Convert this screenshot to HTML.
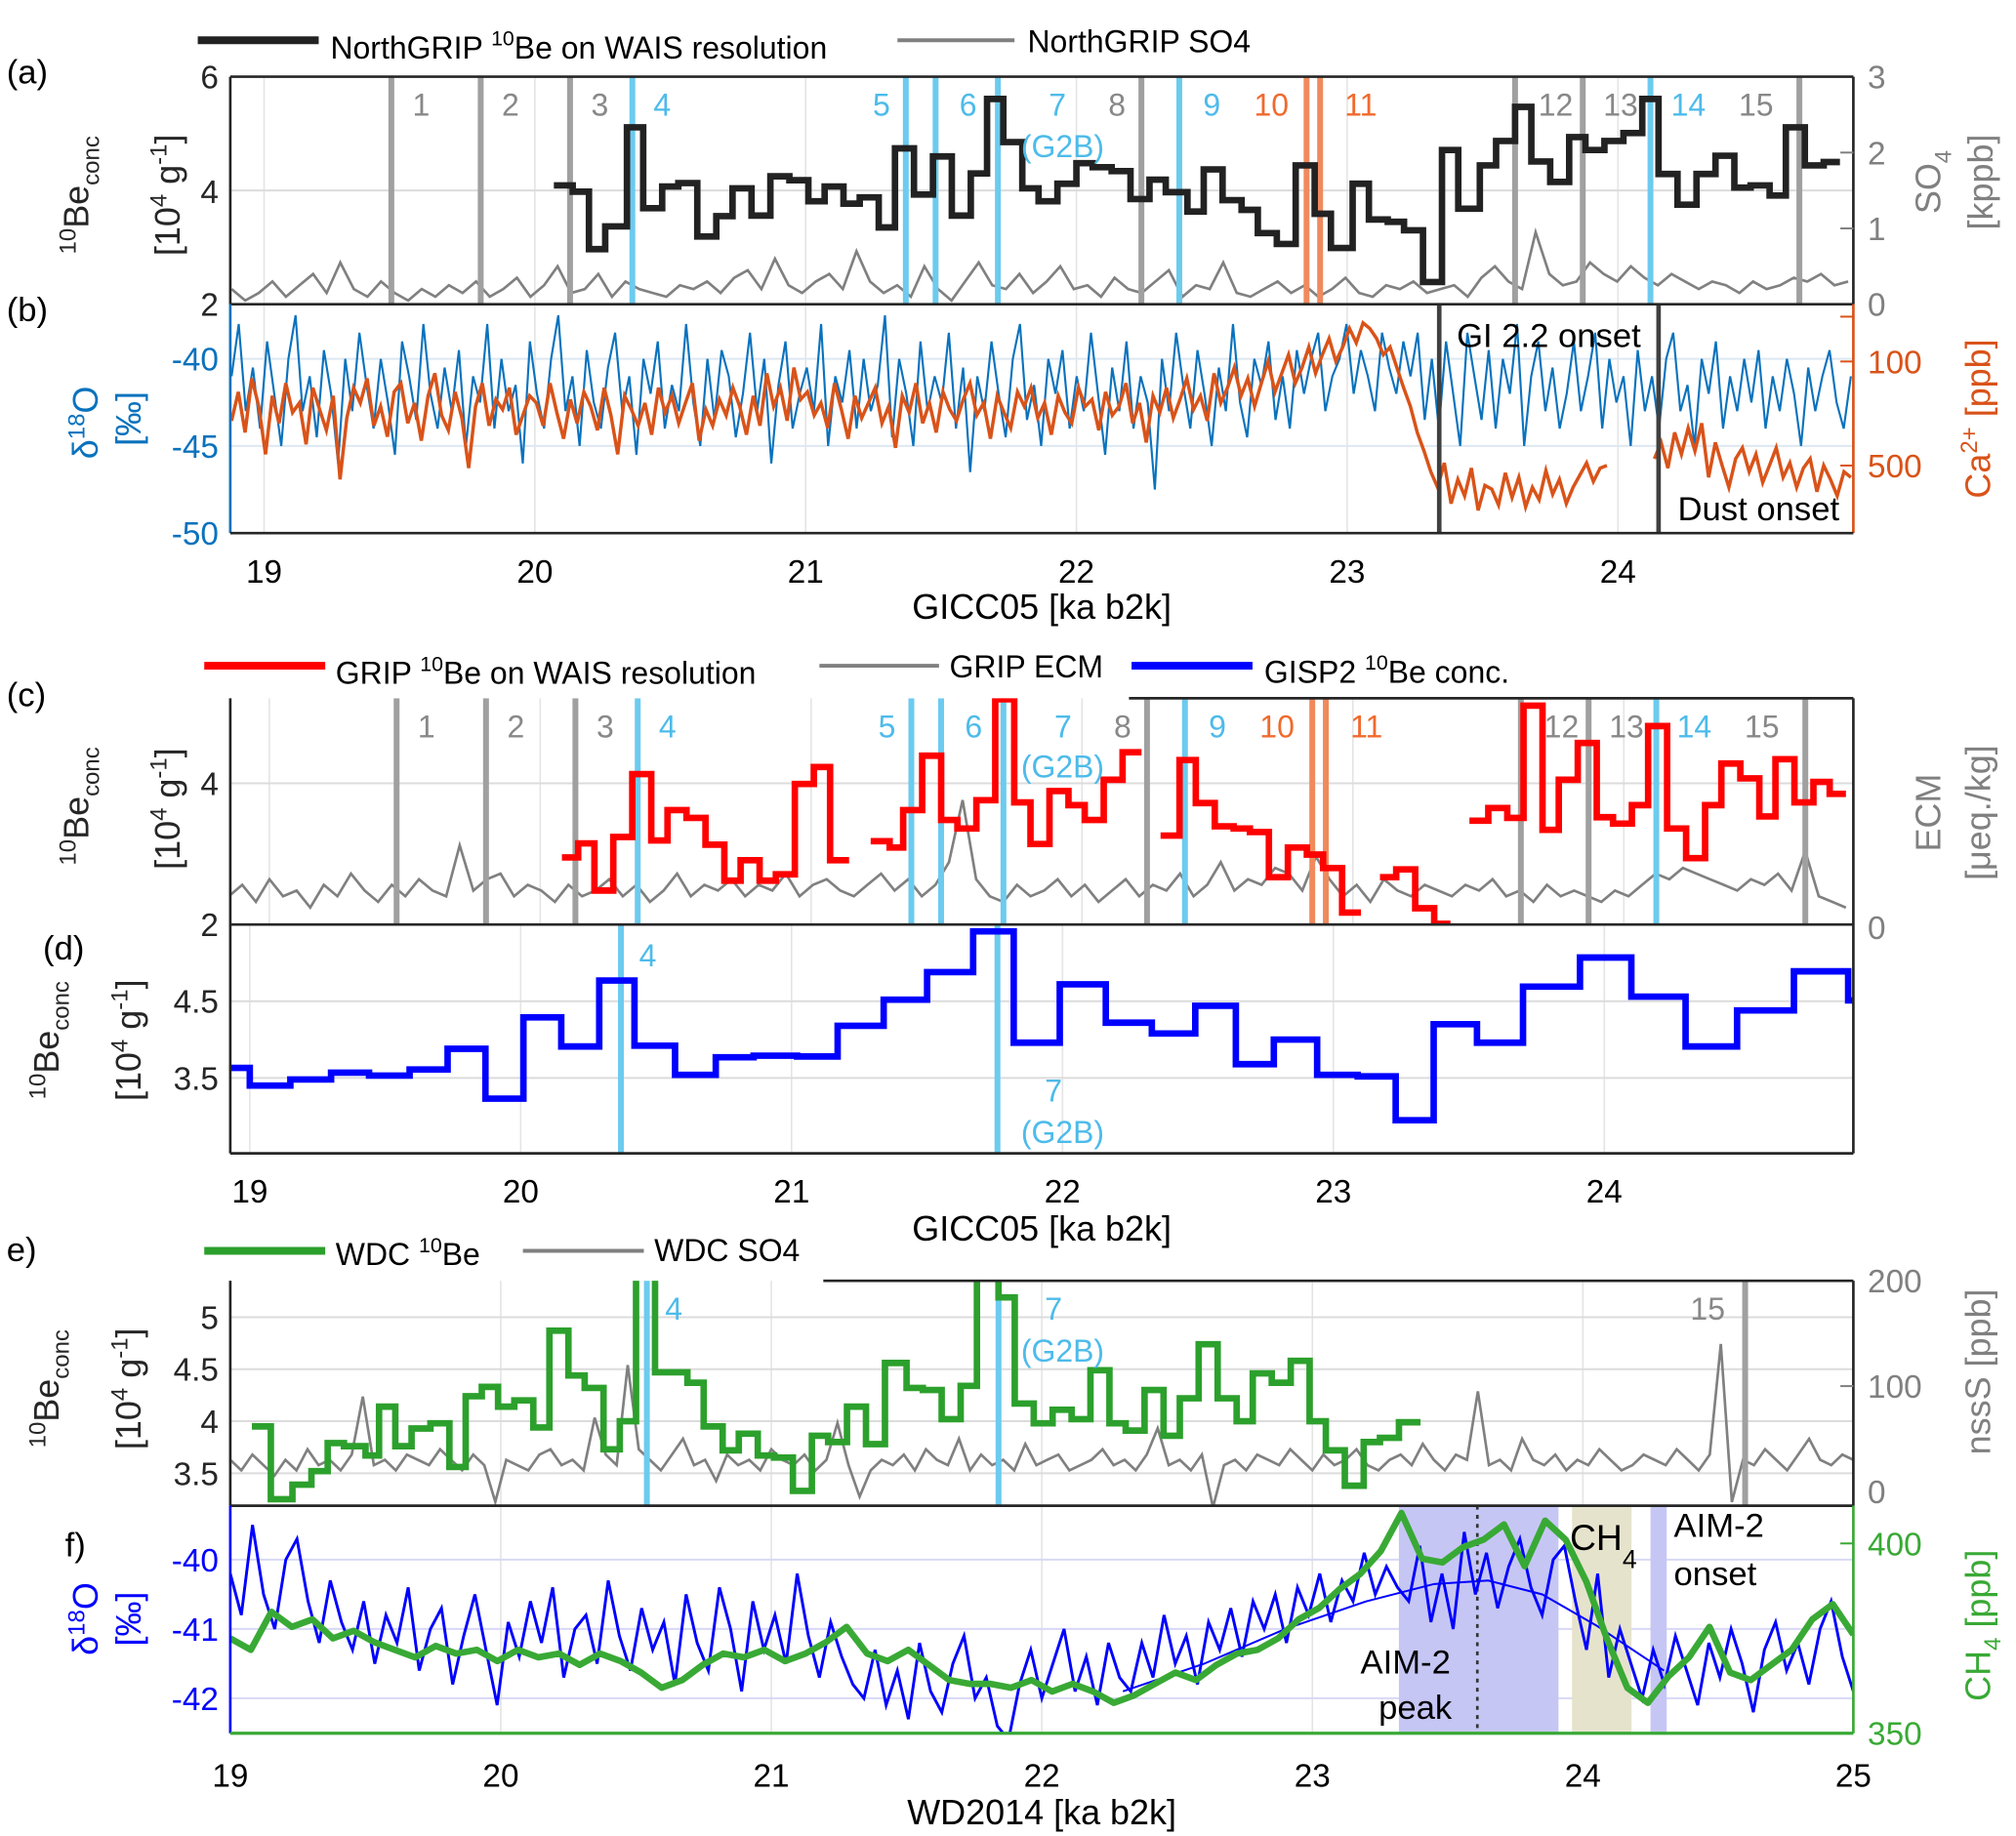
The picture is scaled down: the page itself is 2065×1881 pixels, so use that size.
<!DOCTYPE html>
<html><head><meta charset="utf-8"><style>
html,body{margin:0;padding:0;background:#fff;}
svg{display:block;font-family:"Liberation Sans",Arial,sans-serif;}
</style></head><body>
<svg id="fig" width="2065" height="1881" viewBox="0 0 1550 1412" xmlns="http://www.w3.org/2000/svg">
<defs>
<clipPath id="cA"><rect x="177" y="59" width="1248" height="175"/></clipPath>
<clipPath id="cB"><rect x="177" y="234" width="1248" height="176"/></clipPath>
<clipPath id="cC"><rect x="177" y="537" width="1248" height="174"/></clipPath>
<clipPath id="cD"><rect x="177" y="711" width="1248" height="176"/></clipPath>
<clipPath id="cE"><rect x="177" y="985" width="1248" height="173"/></clipPath>
<clipPath id="cF"><rect x="177" y="1158" width="1248" height="175"/></clipPath>
</defs>
<g id="grid"></g>
<g id="marks"></g>
<g id="axes"></g>
<g id="txt" font-size="25"></g>
</svg>
<script>
// ---------- DATA ----------
const eventAges=[19.47,19.80,20.13,20.36,21.37,21.48,21.71,22.24,22.38,22.85,22.90,23.62,23.87,24.12,24.67];
const eventKinds=['g','g','g','b','b','b','b','g','b','o','o','g','g','b','g'];
const eventLabels=['1','2','3','4','5','6','7','8','9','10','11','12','13','14','15'];
const eventLabelAges=[19.58,19.91,20.24,20.47,21.28,21.60,21.93,22.15,22.50,22.72,23.05,23.77,24.01,24.26,24.51];

const ngripBeAge=[20.07,20.14,20.20,20.26,20.34,20.40,20.47,20.53,20.60,20.67,20.73,20.80,20.87,20.94,21.01,21.07,21.14,21.20,21.27,21.33,21.40,21.47,21.54,21.61,21.67,21.73,21.80,21.86,21.93,22.00,22.06,22.13,22.20,22.27,22.33,22.41,22.47,22.54,22.61,22.67,22.74,22.81,22.88,22.94,23.02,23.08,23.15,23.21,23.28,23.35,23.41,23.49,23.55,23.62,23.68,23.75,23.82,23.88,23.95,24.02,24.09,24.15,24.22,24.29,24.36,24.43,24.49,24.56,24.62,24.69,24.76,24.82];
const ngripBeVal=[4.09,3.98,2.97,3.37,5.11,3.69,4.07,4.13,3.19,3.55,4.04,3.56,4.25,4.18,3.81,4.07,3.77,3.88,3.35,4.74,3.93,4.60,3.56,4.30,5.61,4.85,4.04,3.81,4.12,4.48,4.41,4.34,3.85,4.19,3.97,3.63,4.37,3.83,3.66,3.25,3.06,4.44,3.59,2.99,4.12,3.49,3.45,3.30,2.39,4.71,3.68,4.44,4.87,5.47,4.51,4.15,4.94,4.71,4.87,5.01,5.61,4.29,3.75,4.29,4.61,4.05,4.09,3.91,5.11,4.44,4.50];
const so4Start=18.88, so4End=24.85;
const so4Val=[0.2,0.05,0.15,0.3,0.1,0.25,0.4,0.15,0.55,0.2,0.1,0.3,0.15,0.05,0.2,0.1,0.25,0.15,0.3,0.1,0.2,0.35,0.1,0.25,0.5,0.15,0.2,0.4,0.1,0.3,0.2,0.15,0.1,0.25,0.2,0.3,0.15,0.35,0.45,0.2,0.6,0.25,0.15,0.3,0.4,0.2,0.7,0.3,0.15,0.25,0.1,0.5,0.2,0.05,0.3,0.55,0.25,0.2,0.4,0.15,0.3,0.5,0.2,0.25,0.1,0.35,0.2,0.15,0.3,0.45,0.1,0.25,0.2,0.55,0.15,0.1,0.2,0.3,0.15,0.25,0.1,0.2,0.35,0.15,0.1,0.25,0.2,0.3,0.15,0.2,0.25,0.1,0.35,0.5,0.3,0.2,0.95,0.4,0.25,0.3,0.55,0.4,0.3,0.5,0.35,0.25,0.4,0.3,0.2,0.3,0.25,0.15,0.3,0.2,0.25,0.35,0.3,0.4,0.25,0.3];

const ngripD18Start=18.88, ngripD18End=24.86;
const ngripD18=[-41,-38,-43,-40.5,-44,-39,-42,-45,-40,-37.5,-43,-41,-44.5,-39.5,-42,-46,-40,-43,-38.5,-41.5,
-44,-40,-42.5,-45.5,-39,-41,-43.5,-38,-42,-44,-40.5,-43,-39.5,-45,-41,-42.5,-38,-44,-40,-43,
-41.5,-46,-39,-42,-44,-40,-37.5,-43,-41,-45,-39.5,-42.5,-44,-40.5,-38.5,-43,-41,-45.5,-40,-42,
-39,-44,-41.5,-43,-38,-42.5,-45,-40,-43.5,-39.5,-41,-44.5,-42,-38.5,-43,-40,-46,-41.5,-39,-44,
-42,-40.5,-43,-38,-45,-41,-42.5,-39.5,-44,-40,-43,-41.5,-37.5,-44.5,-40,-42,-45,-39,-43,-41,
-42.5,-38.5,-44,-40.5,-46.5,-41,-43,-39,-42,-44.5,-40,-38,-43.5,-41.5,-45,-40,-42,-39.5,-44,-41,
-43,-38.5,-42,-45.5,-40.5,-43,-39,-44,-41,-42.5,-47.5,-40,-43,-38.5,-41.5,-44,-39.5,-42,-45,-40.5,
-43,-38,-42.5,-44.5,-40,-41.5,-39,-43.5,-41,-44,-39.5,-42,-40,-38.5,-43,-41,-40,-38,-42,-39.5,
-41,-43,-38.5,-40.5,-42,-39,
-41,-38.5,-43.5,-40,-44,-39,-42,-45,-38.5,-41,-43.5,-39.5,-44,-40,-42,-38,-45,-41,-39,-43,-40.5,-44,-42,-39,-43,-41,-38.5,-44,-40,-42.5,-41,-45,-39.5,-43,-41,-44,-40,-38.5,-43,-41.5,-45,-40,-42,-39,-44,-41,-43,-40,-42.5,-39.5,-44,-41,-43,-40,-42,-45,-40.5,-43,-41,-39.5,-42.5,-44,-41];
const caStart=18.88, caEnd=24.86;
const caVal=[250,160,300,130,200,420,170,260,140,220,190,360,150,210,290,170,620,240,150,190,
130,270,200,320,160,140,260,190,340,170,120,230,290,160,240,520,200,140,270,180,
210,150,310,230,170,190,270,140,220,330,180,260,160,200,290,150,230,420,170,210,
270,190,310,150,220,170,260,190,140,340,210,270,180,230,150,200,310,170,270,120,
200,150,250,110,180,160,230,190,280,140,210,330,170,240,190,150,260,200,380,170,
220,140,260,190,300,160,210,250,180,140,230,190,330,170,220,280,160,200,150,240,
190,310,170,220,260,150,200,180,290,160,230,200,140,260,190,350,170,220,150,240,
180,130,210,170,250,120,190,150,110,170,130,200,140,100,160,120,90,140,110,80,
120,90,70,100,80,60,75,55,60,70,90,80,110,150,200,300,
400,550,700,480,900,620,800,520,1000,680,720,920,560,820,600,950,700,850,540,780,620,900,700,580,480,640,520,500,null,null,800,null,650,null,450,350,520,300,420,280,400,260,600,350,500,700,450,380,550,420,650,500,380,600,480,700,520,450,750,500,620,800,550,600];

const gripBeAge=[20.08,20.14,20.20,20.27,20.34,20.41,20.47,20.54,20.61,20.68,20.74,20.81,20.87,20.94,21.01,21.07,21.14,21.22,21.29,21.34,21.41,21.48,21.54,21.61,21.68,21.75,21.81,21.88,21.95,22.01,22.08,22.15,22.22,22.29,22.36,22.42,22.49,22.56,22.62,22.69,22.76,22.83,22.89,22.96,23.03,23.10,23.16,23.23,23.30,23.36,23.43,23.50,23.57,23.63,23.70,23.76,23.83,23.90,23.96,24.03,24.09,24.16,24.23,24.30,24.36,24.43,24.50,24.56,24.63,24.70,24.76,24.82];
const gripBeVal=[2.95,3.15,2.48,3.24,4.13,3.19,3.62,3.51,3.13,2.62,2.91,2.62,2.71,3.99,4.23,2.91,null,3.18,3.09,3.62,4.39,3.48,3.36,3.76,5.19,3.73,3.14,3.89,3.69,3.48,4.05,4.44,null,3.26,4.33,3.72,3.39,3.36,3.31,2.67,3.09,2.99,2.80,2.17,null,2.67,2.78,2.23,2.01,null,3.47,3.65,3.51,5.10,3.34,4.05,4.57,3.52,3.43,3.69,4.81,3.36,2.94,3.69,4.28,4.07,3.53,4.34,3.73,4.02,3.85];
const ecmStart=18.85, ecmEnd=24.82;
const ecmVal=[0.5,0.7,0.4,0.8,0.5,0.6,0.3,0.7,0.5,0.9,0.6,0.4,0.7,0.5,0.8,0.6,0.5,1.4,0.6,0.8,0.9,0.5,0.7,0.6,0.4,0.7,0.5,0.6,0.8,0.5,0.7,0.4,0.6,0.9,0.5,0.7,0.6,0.8,0.5,0.7,0.6,0.9,0.5,0.7,0.8,0.6,0.5,0.7,0.9,0.6,0.8,0.5,0.7,1.1,2.2,0.8,0.5,0.4,0.7,0.5,0.6,0.8,0.5,0.7,0.4,0.6,0.8,0.5,0.7,0.6,0.9,0.5,0.7,1.1,0.6,0.8,0.7,1.0,0.9,0.6,1.2,0.8,0.5,0.7,0.4,0.8,0.6,0.5,0.7,0.6,0.5,0.7,0.6,0.8,0.5,0.6,0.4,0.7,0.5,0.6,0.5,0.4,0.6,0.5,0.7,0.9,0.8,1.0,0.9,0.8,0.7,0.6,0.8,0.7,0.9,0.6,1.3,0.5,0.4,0.3];

const gispAge=[18.93,19.00,19.15,19.30,19.44,19.59,19.73,19.87,20.01,20.15,20.29,20.42,20.57,20.72,20.86,21.02,21.17,21.34,21.50,21.67,21.82,21.99,22.16,22.33,22.49,22.64,22.78,22.94,23.09,23.23,23.37,23.53,23.70,23.91,24.10,24.30,24.49,24.70,24.90,24.92];
const gispVal=[3.63,3.40,3.48,3.57,3.53,3.61,3.88,3.23,4.29,3.91,4.77,3.92,3.54,3.77,3.79,3.78,4.18,4.52,4.88,5.41,3.96,4.72,4.22,4.08,4.44,3.68,4.00,3.54,3.52,2.95,4.20,3.96,4.69,5.07,4.56,3.91,4.38,4.89,4.51];
const gispEventAges=[20.37,21.76];

const wdcBeAge=[19.08,19.15,19.23,19.30,19.36,19.42,19.50,19.55,19.61,19.67,19.74,19.81,19.87,19.93,19.99,20.05,20.12,20.18,20.25,20.31,20.38,20.44,20.50,20.57,20.69,20.75,20.82,20.88,20.95,21.01,21.08,21.15,21.21,21.28,21.35,21.42,21.50,21.56,21.63,21.70,21.76,21.84,21.90,21.97,22.04,22.11,22.18,22.25,22.31,22.38,22.45,22.51,22.58,22.65,22.72,22.78,22.85,22.92,22.99,23.05,23.12,23.19,23.25,23.32,23.40];
const wdcBeVal=[3.95,3.25,3.39,3.52,3.79,3.76,3.67,4.14,3.76,3.93,3.98,3.56,4.24,4.33,4.14,4.20,3.94,4.87,4.44,4.32,3.73,4.00,5.40,4.47,4.37,3.95,3.72,3.88,3.67,3.65,3.33,3.86,3.80,4.14,3.78,4.56,4.32,4.30,4.02,4.34,5.40,5.19,4.17,3.98,4.11,4.02,4.49,3.98,3.91,4.30,3.86,4.22,4.74,4.22,4.00,4.46,4.37,4.58,4.00,3.72,3.38,3.80,3.84,3.99];
const nssStart=19.0, nssEnd=25.0;
const nssVal=[30,20,35,25,15,30,20,40,25,30,20,35,90,25,30,20,35,30,25,40,30,20,35,25,-10,30,25,20,35,40,25,30,20,70,35,25,120,40,30,20,35,50,25,30,10,35,25,30,20,40,30,25,35,20,30,65,25,-5,20,30,25,35,20,40,30,25,50,20,35,25,30,20,45,25,30,35,20,25,30,40,25,30,20,35,60,25,30,20,35,-15,25,30,20,35,30,25,40,30,20,35,25,30,40,25,20,30,35,25,45,30,20,35,30,95,25,30,20,50,30,25,35,20,30,25,40,30,20,25,35,30,25,40,30,20,35,140,-10,30,25,40,30,20,35,50,30,25,35,30];
const wdcEventAges=[20.54,21.84,24.60];
const wdcEventKinds=['b','b','g'];

const wdD18Start=19.0, wdD18End=25.0;
const wdD18=[-40.2,-40.8,-39.5,-40.5,-41,-40,-39.7,-40.6,-41.2,-40.3,-40.9,-41.3,-40.6,-41.5,-40.8,-41.2,-40.4,-41.6,-41,-40.7,-41.8,-41.1,-40.5,-41.3,-42.1,-40.9,-41.4,-40.6,-41.2,-40.4,-41.7,-41,-40.8,-41.5,-40.3,-41.1,-41.6,-40.7,-41.3,-40.9,-41.8,-40.5,-41.2,-41.6,-40.4,-41,-41.9,-40.6,-41.3,-40.8,-41.5,-40.2,-41.1,-41.7,-40.9,-41.4,-41.8,-42,-41.3,-42.1,-41.6,-42.3,-41.2,-41.9,-42.2,-41.5,-41.1,-42,-41.7,-42.4,-42.6,-41.8,-41.3,-42,-41.5,-41,-41.9,-41.4,-42.1,-41.2,-41.7,-41.9,-41.2,-41.7,-40.8,-41.5,-41.1,-41.8,-40.9,-41.3,-40.7,-41.4,-40.6,-41,-40.5,-41.2,-40.4,-40.8,-40.2,-40.9,-40.3,-40.6,-39.9,-40.5,-40.1,-40.4,-40.6,-39.8,-40.9,-40.2,-41,-39.6,-40.5,-39.9,-40.7,-40.1,-39.7,-40.4,-40.8,-40,-39.8,-40.6,-41.3,-40.2,-41.7,-41,-41.5,-42,-41.3,-41.8,-41.1,-41.6,-42.1,-41.2,-41.7,-41,-41.5,-42.2,-41.3,-40.9,-41.6,-41.2,-41.8,-41,-40.6,-41.4,-41.9];
const ch4Start=19.0, ch4End=25.0;
const ch4Val=[375,372,382,378,380,375,377,374,372,370,373,371,372,369,372,370,371,368,371,369,366,362,364,368,371,370,372,369,371,374,378,371,369,372,368,364,363,363,362,364,361,363,361,358,360,363,366,364,368,371,372,375,380,383,388,392,398,408,396,395,399,401,405,394,406,401,390,375,362,358,365,370,378,366,364,368,372,380,384,376];
const fitAge=[22.3,22.6,22.9,23.2,23.45,23.65,23.85,24.05,24.3];
const fitVal=[-41.9,-41.5,-41.0,-40.6,-40.35,-40.3,-40.5,-40.95,-41.6];
const shadeStart=[23.32,23.96,24.25];
const shadeEnd=[23.91,24.18,24.31];
const shadeKind=['b','k','b'];

// ---------- HELPERS ----------
const NS='http://www.w3.org/2000/svg';
const G={grid:document.getElementById('grid'),marks:document.getElementById('marks'),axes:document.getElementById('axes'),txt:document.getElementById('txt')};
function el(tag,attrs,parent){const e=document.createElementNS(NS,tag);for(const k in attrs)e.setAttribute(k,attrs[k]);(parent||G.marks).appendChild(e);return e;}
const PX=208.2;
const xA=a=>203+(a-19)*PX, xC=a=>207+(a-19)*208.3, xD=a=>192+(a-19)*208.3, xE=a=>177+(a-19)*208;
const yA=v=>234-(v-2)/4*175, ySO4=v=>234-v/3*175;
const yB=v=>276+(-40-v)*13.4, yCa=v=>278+Math.log10(v/100)*114.5;
const yC=v=>711-(v-2)*54.3, yEcm=v=>711-v/4*174;
const yDd=v=>770-(v-4.5)*59;
const yE=v=>1013-(v-5)*80, yNss=v=>1147-v*0.81;
const yF=v=>1199.5+(-40-v)*53.3, yCh4=v=>1333-(v-350)*2.92;

function stepPath(ages,vals,xs,ys){let d='',pen=false;for(let i=0;i<vals.length;i++){const v=vals[i];if(v===null){pen=false;continue;}const x0=xs(ages[i]).toFixed(1),x1=xs(ages[i+1]).toFixed(1),y=ys(v).toFixed(1);d+=(pen?'V'+y+'H'+x1:'M'+x0+' '+y+'H'+x1);pen=true;}return d;}
function linePath(s,e,vals,xs,ys){const st=(e-s)/(vals.length-1);let d='',pen=false;vals.forEach((v,i)=>{if(v===null){pen=false;return;}d+=(pen?'L':'M')+xs(s+i*st).toFixed(1)+' '+ys(v).toFixed(1);pen=true;});return d;}
function ptsPath(ages,vals,xs,ys){return ages.map((a,i)=>(i?'L':'M')+xs(a).toFixed(1)+' '+ys(vals[i]).toFixed(1)).join('');}
const COL={g:'#a0a0a0',b:'#6ccbef',o:'#f08a5d'};
function T(x,y,s,attrs){const t=el('text',Object.assign({x:x,y:y},attrs||{}),G.txt);t.innerHTML=s;return t;}

// ---------- GRID ----------
function vgrid(xs,y0,y1,lo,hi){for(let k=lo;k<=hi;k++){const l=el('line',{x1:xs(k),x2:xs(k),y1:y0,y2:y1,stroke:'#e4e4e4','stroke-width':1.2},G.grid);}}
function hgrid(y,col){const l=el('line',{x1:177,x2:1425,y1:y,y2:y,stroke:col||'#dcdcdc','stroke-width':1.5},G.grid);}
vgrid(xA,59,410,19,24);vgrid(xC,537,711,19,24);vgrid(xD,711,887,19,24);vgrid(xE,985,1333,20,24);
hgrid(yA(4));hgrid(yB(-40),'#dde8f2');hgrid(yB(-45),'#dde8f2');hgrid(yC(4));hgrid(yDd(4.5));hgrid(yDd(3.5));
[5,4.5,4,3.5].forEach(v=>hgrid(yE(v)));[-40,-41,-42].forEach(v=>hgrid(yF(v),'#d8d8f6'));

// ---------- PANEL A ----------
let gA=el('g',{'clip-path':'url(#cA)'});

let p=el('path',{d:linePath(so4Start,so4End,so4Val,xA,ySO4),fill:'none',stroke:'#808080','stroke-width':2},gA);

eventAges.forEach((a,i)=>{const l=el('line',{x1:xA(a),x2:xA(a),y1:59,y2:234,stroke:COL[eventKinds[i]],'stroke-width':4.5},gA);});
p=el('path',{d:stepPath(ngripBeAge,ngripBeVal,xA,yA),fill:'none',stroke:'#222','stroke-width':5},gA);

// ---------- PANEL B ----------
let gB=el('g',{'clip-path':'url(#cB)'});

p=el('path',{d:linePath(ngripD18Start,ngripD18End,ngripD18,xA,yB),fill:'none',stroke:'#0a72bd','stroke-width':1.6},gB);

p=el('path',{d:linePath(caStart,caEnd,caVal,xA,yCa),fill:'none',stroke:'#d95319','stroke-width':2.6},gB);

[23.34,24.15].forEach(a=>{const l=el('line',{x1:xA(a),x2:xA(a),y1:234,y2:410,stroke:'#404040','stroke-width':3.5},gB);});
// ---------- PANEL C ----------
let gC=el('g',{'clip-path':'url(#cC)'});

p=el('path',{d:linePath(ecmStart,ecmEnd,ecmVal,xC,yEcm),fill:'none',stroke:'#808080','stroke-width':2},gC);

eventAges.forEach((a,i)=>{const l=el('line',{x1:xC(a),x2:xC(a),y1:537,y2:711,stroke:COL[eventKinds[i]],'stroke-width':4.5},gC);});
p=el('path',{d:stepPath(gripBeAge,gripBeVal,xC,yC),fill:'none',stroke:'#ff0000','stroke-width':5},gC);

// ---------- PANEL D ----------
let gD=el('g',{'clip-path':'url(#cD)'});

gispEventAges.forEach(a=>{const l=el('line',{x1:xD(a),x2:xD(a),y1:711,y2:887,stroke:COL.b,'stroke-width':4.5},gD);});
p=el('path',{d:stepPath(gispAge,gispVal,xD,yDd),fill:'none',stroke:'#0000ff','stroke-width':5},gD);

// ---------- PANEL E ----------
let gE=el('g',{'clip-path':'url(#cE)'});

p=el('path',{d:linePath(nssStart,nssEnd,nssVal,xE,yNss),fill:'none',stroke:'#808080','stroke-width':2},gE);

wdcEventAges.forEach((a,i)=>{const l=el('line',{x1:xE(a),x2:xE(a),y1:985,y2:1158,stroke:COL[wdcEventKinds[i]],'stroke-width':4.5},gE);});
p=el('path',{d:stepPath(wdcBeAge,wdcBeVal,xE,yE),fill:'none',stroke:'#2ca02c','stroke-width':5},gE);

// ---------- PANEL F ----------
let gF=el('g',{'clip-path':'url(#cF)'});

shadeStart.forEach((s,i)=>{const r=el('rect',{x:xE(s),y:1158,width:xE(shadeEnd[i])-xE(s),height:175,fill:shadeKind[i]==='b'?'#c6c6f5':'#e6e3cd'},gF);});
p=el('line',{x1:xE(23.61),x2:xE(23.61),y1:1158,y2:1333,stroke:'#333','stroke-width':2,'stroke-dasharray':'3,4'},gF);

p=el('path',{d:linePath(wdD18Start,wdD18End,wdD18,xE,yF),fill:'none',stroke:'#0000ff','stroke-width':2.2},gF);

p=el('path',{d:ptsPath(fitAge,fitVal,xE,yF),fill:'none',stroke:'#0000ff','stroke-width':1.5},gF);

p=el('path',{d:linePath(ch4Start,ch4End,ch4Val,xE,yCh4),fill:'none',stroke:'#39a935','stroke-width':5,'stroke-linejoin':'round'},gF);


// ---------- AXES ----------
function ln(x1,y1,x2,y2,c,w,name){const l=el('line',{x1:x1,y1:y1,x2:x2,y2:y2,stroke:c,'stroke-width':w},G.axes);}
ln(177,59,1425,59,'#262626',2,'axis-a-top');ln(177,59,177,234,'#262626',2,'axis-a-left');ln(1425,59,1425,234,'#262626',2,'axis-a-right');
ln(177,234,1425,234,'#262626',2,'axis-ab-sep');ln(177,234,177,410,'#0a72bd',2,'axis-b-left');ln(1425,234,1425,410,'#d95319',2,'axis-b-right');ln(177,410,1425,410,'#262626',2,'axis-b-bottom');
ln(868,537,1425,537,'#262626',2,'axis-c-top');ln(177,537,177,887,'#262626',2,'axis-cd-left');ln(1425,537,1425,887,'#262626',2,'axis-cd-right');ln(177,711,1425,711,'#262626',2,'axis-cd-sep');ln(177,887,1425,887,'#262626',2,'axis-d-bottom');
ln(633,985,1425,985,'#262626',2,'axis-e-top');ln(177,985,177,1158,'#262626',2,'axis-e-left');ln(1425,985,1425,1158,'#262626',2,'axis-e-right');ln(177,1158,1425,1158,'#262626',2,'axis-ef-sep');
ln(177,1158,177,1333,'#0000ff',2,'axis-f-left');ln(1425,1158,1425,1333,'#39a935',2,'axis-f-right');ln(177,1333,1425,1333,'#39a935',2.5,'axis-f-bottom');
[1,2].forEach(v=>ln(1415,ySO4(v),1425,ySO4(v),'#808080',1.5,'tick-so4'));
[50,100,500].forEach(v=>ln(1415,yCa(v),1425,yCa(v),'#d95319',1.5,'tick-ca'));
[100].forEach(v=>ln(1415,yNss(v),1425,yNss(v),'#808080',1.5,'tick-nss'));
[400].forEach(v=>ln(1415,yCh4(v),1425,yCh4(v),'#39a935',1.5,'tick-ch4'));

// ---------- TEXT ----------
function nm(t,n){return t;}
ln(152,31,245,31,'#222',6,'legend-ngrip-be-swatch');ln(690,31,780,31,'#808080',3,'legend-ngrip-so4-swatch');
nm(T(254,45,'NorthGRIP <tspan dy="-10" font-size="16">10</tspan><tspan dy="10">Be on WAIS resolution</tspan>',{'font-size':24}),'legend-ngrip-be');
nm(T(790,40,'NorthGRIP SO4',{'font-size':24}),'legend-ngrip-so4');
ln(157,512,250,512,'#ff0000',6,'legend-grip-be-swatch');ln(630,512,722,512,'#808080',3,'legend-grip-ecm-swatch');ln(870,512,963,512,'#0000ff',6,'legend-gisp2-swatch');
nm(T(258,526,'GRIP <tspan dy="-10" font-size="16">10</tspan><tspan dy="10">Be on WAIS resolution</tspan>',{'font-size':24}),'legend-grip-be');
nm(T(730,521,'GRIP ECM',{'font-size':24}),'legend-grip-ecm');
nm(T(972,525,'GISP2 <tspan dy="-10" font-size="16">10</tspan><tspan dy="10">Be conc.</tspan>',{'font-size':24}),'legend-gisp2-be');
ln(157,962,250,962,'#2ca02c',6,'legend-wdc-be-swatch');ln(402,962,495,962,'#808080',3,'legend-wdc-so4-swatch');
nm(T(258,973,'WDC <tspan dy="-10" font-size="16">10</tspan><tspan dy="10">Be</tspan>',{'font-size':24}),'legend-wdc-be');
nm(T(503,970,'WDC SO4',{'font-size':24}),'legend-wdc-so4');
nm(T(5,64,'(a)',{'font-size':26}),'panel-label-a');nm(T(5,247,'(b)',{'font-size':26}),'panel-label-b');
nm(T(5,543,'(c)',{'font-size':26}),'panel-label-c');nm(T(33,738,'(d)',{'font-size':26}),'panel-label-d');
nm(T(5,970,'e)',{'font-size':26}),'panel-label-e');nm(T(50,1197,'f)',{'font-size':26}),'panel-label-f');
eventLabels.forEach((s,i)=>{const c=eventKinds[i]==='b'?'#4dbbea':eventKinds[i]==='o'?'#f06a2e':'#888';
 const t=T(xA(eventLabelAges[i]),89,s,{fill:c,'text-anchor':'middle','font-size':24});
 const t2=T(xC(eventLabelAges[i]),567,s,{fill:c,'text-anchor':'middle','font-size':24});});
nm(T(817,121,'(G2B)',{fill:'#4dbbea','text-anchor':'middle','font-size':24}),'g2b-label-a');
nm(T(817,598,'(G2B)',{fill:'#4dbbea','text-anchor':'middle','font-size':24}),'g2b-label-c');
nm(T(498,743,'4',{fill:'#4dbbea','text-anchor':'middle','font-size':24}),'event-label-d4');
nm(T(810,847,'7',{fill:'#4dbbea','text-anchor':'middle','font-size':24}),'event-label-d7');
nm(T(817,879,'(G2B)',{fill:'#4dbbea','text-anchor':'middle','font-size':24}),'g2b-label-d');
nm(T(518,1015,'4',{fill:'#4dbbea','text-anchor':'middle','font-size':24}),'event-label-e4');
nm(T(810,1015,'7',{fill:'#4dbbea','text-anchor':'middle','font-size':24}),'event-label-e7');
nm(T(817,1047,'(G2B)',{fill:'#4dbbea','text-anchor':'middle','font-size':24}),'g2b-label-e');
nm(T(1313,1015,'15',{fill:'#888','text-anchor':'middle','font-size':24}),'event-label-e15');
nm(T(1120,267,'GI 2.2 onset',{'font-size':26}),'gi22-onset-label');
nm(T(1290,400,'Dust onset',{'font-size':26}),'dust-onset-label');
nm(T(1046,1287,'AIM-2',{'font-size':26}),'aim2-peak-label1');nm(T(1060,1322,'peak',{'font-size':26}),'aim2-peak-label2');
nm(T(1207,1192,'CH<tspan dy="14" font-size="20">4</tspan>',{'font-size':28}),'ch4-label');
nm(T(1287,1182,'AIM-2',{'font-size':26}),'aim2-onset-label1');nm(T(1287,1219,'onset',{'font-size':26}),'aim2-onset-label2');
function lt(y,s,c,n){nm(T(168,y+9,s,{'text-anchor':'end',fill:c||'#262626'}),n);}
lt(59,'6',null,'ytick-a');lt(147,'4',null,'ytick-a');lt(234,'2',null,'ytick-a');
lt(yB(-40),'-40','#0a72bd','ytick-b');lt(yB(-45),'-45','#0a72bd','ytick-b');lt(410,'-50','#0a72bd','ytick-b');
lt(yC(4),'4',null,'ytick-c');lt(711,'2',null,'ytick-c');lt(yDd(4.5),'4.5',null,'ytick-d');lt(yDd(3.5),'3.5',null,'ytick-d');
[5,4.5,4,3.5].forEach(v=>lt(yE(v),String(v),null,'ytick-e'));
[-40,-41,-42].forEach(v=>lt(yF(v),String(v),'#0000ff','ytick-f'));
function rt(y,s,c,n){nm(T(1436,y+9,s,{fill:c}),n);}
[0,1,2,3].forEach(v=>rt(ySO4(v),String(v),'#808080','ytick-so4'));
rt(yCa(100),'100','#d95319','ytick-ca');rt(yCa(500),'500','#d95319','ytick-ca');
rt(713,'0','#808080','ytick-ecm');
rt(yNss(200),'200','#808080','ytick-nss');rt(yNss(100),'100','#808080','ytick-nss');rt(yNss(0),'0','#808080','ytick-nss');
rt(yCh4(400),'400','#39a935','ytick-ch4');rt(yCh4(350),'350','#39a935','ytick-ch4');
for(let k=19;k<=24;k++){nm(T(xA(k),448,String(k),{'text-anchor':'middle'}),'xtick-b');nm(T(xD(k),925,String(k),{'text-anchor':'middle'}),'xtick-d');}
for(let k=19;k<=25;k++){nm(T(xE(k),1374,String(k),{'text-anchor':'middle'}),'xtick-f');}
nm(T(801,476,'GICC05 [ka b2k]',{'text-anchor':'middle','font-size':27}),'x-title-b');
nm(T(801,954,'GICC05 [ka b2k]',{'text-anchor':'middle','font-size':27}),'x-title-d');
nm(T(801,1403,'WD2014 [ka b2k]',{'text-anchor':'middle','font-size':27}),'x-title-f');
function yt(x,y,html,c,n){nm(T(x,y,html,{'text-anchor':'middle',fill:c||'#262626','font-size':27,transform:'rotate(-90 '+x+' '+y+')'}),n);}
const BE='<tspan dy="-10" font-size="18">10</tspan><tspan dy="10">Be</tspan><tspan dy="8" font-size="18">conc</tspan>';
const UN='[10<tspan dy="-10" font-size="18">4</tspan><tspan dy="10"> g</tspan><tspan dy="-10" font-size="18">-1</tspan><tspan dy="10">]</tspan>';
yt(68,150,BE,null,'y-title-a');yt(138,150,UN,null,'y-title-a-units');
yt(75,325,'δ<tspan dy="-10" font-size="18">18</tspan><tspan dy="10">O</tspan>','#0a72bd','y-title-b');yt(108,322,'[‰]','#0a72bd','y-title-b-units');
yt(1492,140,'SO<tspan dy="8" font-size="18">4</tspan>','#808080','y-title-so4');yt(1532,140,'[kppb]','#808080','y-title-so4-units');
yt(1530,322,'Ca<tspan dy="-10" font-size="18">2+</tspan><tspan dy="10"> [ppb]</tspan>','#d95319','y-title-ca');
yt(68,620,BE,null,'y-title-c');yt(138,622,UN,null,'y-title-c-units');
yt(45,800,BE,null,'y-title-d');yt(108,800,UN,null,'y-title-d-units');
yt(1492,625,'ECM','#808080','y-title-ecm');yt(1530,625,'[μeq./kg]','#808080','y-title-ecm-units');
yt(45,1068,BE,null,'y-title-e');yt(108,1068,UN,null,'y-title-e-units');
yt(1530,1055,'nssS [ppb]','#808080','y-title-nss');
yt(75,1245,'δ<tspan dy="-10" font-size="18">18</tspan><tspan dy="10">O</tspan>','#0000ff','y-title-f');yt(108,1245,'[‰]','#0000ff','y-title-f-units');
yt(1530,1250,'CH<tspan dy="8" font-size="18">4</tspan><tspan dy="-8"> [ppb]</tspan>','#39a935','y-title-ch4');
</script>
</body></html>
